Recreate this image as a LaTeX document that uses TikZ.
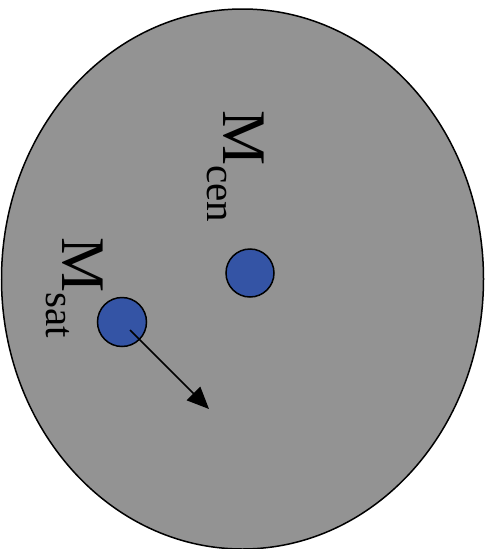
\documentclass[tikz,border=0pt]{standalone}
\usepackage{fontspec}
\setmainfont{Liberation Serif}
\newfontfamily\massfont{Liberation Serif}
\usetikzlibrary{arrows.meta,shapes.geometric}
\definecolor{halogray}{RGB}{147,147,147}
\definecolor{massblue}{RGB}{52,84,165}
\newcommand{\massname}[1]{\massfont\fontsize{62}{62}\selectfont M\raisebox{-16pt}{\fontsize{41}{41}\selectfont #1}}
\tikzset{
  mass/.style={circle,draw=black,line width=1.5pt,fill=massblue,minimum size=48pt,inner sep=0pt},
  masslabel/.style={rotate=-90,anchor=base west,inner sep=0pt,font=\massfont}
}
\begin{document}
\begin{tikzpicture}[x=1pt,y=-1pt]
\useasboundingbox (0,0) rectangle (486,549);
\node[ellipse,draw=black,line width=1.5pt,fill=halogray,minimum width=482pt,minimum height=540pt,inner sep=0pt] (halo) at (242.5,279) {};
\node[mass] (cen) at (250,273) {};
\node[mass,minimum size=49pt] (sat) at (122,322) {};
\node[masslabel] (cenlabel) at (223,110) {\massname{cen}};
\node[masslabel] (satlabel) at (62,237) {\massname{sat}};
\coordinate (start) at (130,330);
\coordinate (dir) at (209,409);
\draw[line width=1.6pt,-{Triangle[length=22pt,width=19pt]}] (start) -- (dir);
\end{tikzpicture}
\end{document}
